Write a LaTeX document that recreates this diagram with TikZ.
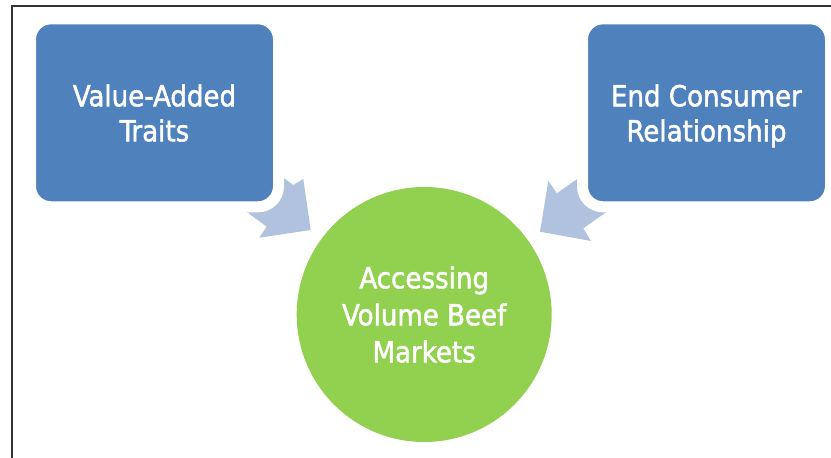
\documentclass[tikz,border=0pt]{standalone}
\usepackage{fontspec}
\setmainfont{DejaVu Sans Condensed}[FakeBold=1.6]
\usetikzlibrary{calc}
\definecolor{boxblue}{RGB}{79,129,189}
\definecolor{leafgreen}{RGB}{146,208,80}
\definecolor{arrowblue}{RGB}{176,194,222}
\begin{document}
\begin{tikzpicture}[x=1pt,y=-1pt,
  boxstyle/.style={draw=white, line width=11pt, fill=boxblue, rounded corners=20.5pt,
    minimum width=248pt, minimum height=188pt, inner sep=0pt, text=white,
    font=\fontsize{29}{35}\selectfont, align=center, text depth=0pt},
  hubstyle/.style={circle, fill=leafgreen, minimum size=255pt, inner sep=0pt, text=white,
    font=\fontsize{29}{37}\selectfont, align=center},
  blockarrow/.style={fill=arrowblue},
  framestyle/.style={line width=1.8pt, black!80}]
\useasboundingbox (0,0) rectangle (831,458);
% frame
\coordinate (ftr) at (831,6);
\coordinate (ftl) at (12,6);
\coordinate (fbl) at (12,458);
\draw[framestyle] (ftr) -- (ftl) -- (fbl);
% block arrows
\fill[blockarrow] (234.5,203) -- (266.7,226.7) -- (259.3,237.7) -- (310.7,230)
  -- (303.3,179) -- (293.3,185) -- (261,161.3) -- cycle;
\fill[blockarrow] (616,205.3) -- (583.3,228.3) -- (591,241) -- (540,231.7)
  -- (548.3,180.7) -- (556.7,193.3) -- (589.5,170.3) -- cycle;
% boxes
\node[boxstyle] (vat) at (154.5,112.8) {Value-Added\\Traits};
\node[boxstyle] (ecr) at (706.5,112.8) {End Consumer\\Relationship};
% hub
\node[hubstyle] (hub) at (424.2,314.5) {Accessing\\Volume Beef\\Markets};
\end{tikzpicture}
\end{document}
